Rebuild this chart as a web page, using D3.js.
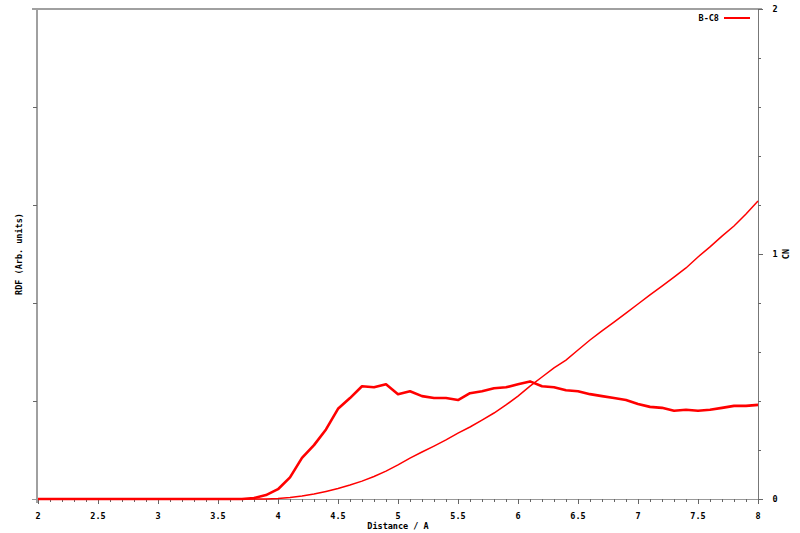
<!DOCTYPE html>
<html>
<head>
<meta charset="utf-8">
<script src="https://cdn.jsdelivr.net/npm/d3@7"></script>
<style>
  body { margin: 0; background: #fff; }
  text { font-family: "DejaVu Sans Mono", monospace; font-weight: bold; font-size: 8.5px; fill: #000; }
</style>
</head>
<body>
<svg id="chart" width="800" height="533"></svg>
<script>
// distance (A), every 0.1
const distance = [2.0,2.1,2.2,2.3,2.4,2.5,2.6,2.7,2.8,2.9,
  3.0,3.1,3.2,3.3,3.4,3.5,3.6,3.7,3.8,3.9,
  4.0,4.1,4.2,4.3,4.4,4.5,4.6,4.7,4.8,4.9,
  5.0,5.1,5.2,5.3,5.4,5.5,5.6,5.7,5.8,5.9,
  6.0,6.1,6.2,6.3,6.4,6.5,6.6,6.7,6.8,6.9,
  7.0,7.1,7.2,7.3,7.4,7.5,7.6,7.7,7.8,7.9,8.0];

// RDF (arb. units)
const rdf = [0,0,0,0,0,0,0,0,0,0,
  0,0,0,0,0,0,0,0,0.01,0.04,
  0.10,0.22,0.42,0.55,0.71,0.92,1.03,1.15,1.14,1.17,
  1.07,1.10,1.05,1.03,1.03,1.01,1.08,1.10,1.13,1.14,
  1.17,1.20,1.15,1.14,1.11,1.10,1.07,1.05,1.03,1.01,
  0.97,0.94,0.93,0.90,0.91,0.90,0.91,0.93,0.95,0.95,0.96];

// coordination number
const cn = [0,0,0,0,0,0,0,0,0,0,
  0,0,0,0,0,0,0,0,0,0,
  0.002,0.006,0.012,0.020,0.031,0.043,0.057,0.073,0.092,0.114,
  0.139,0.167,0.192,0.216,0.241,0.269,0.294,0.322,0.351,0.384,
  0.420,0.461,0.498,0.535,0.567,0.608,0.649,0.686,0.722,0.759,
  0.796,0.833,0.869,0.906,0.943,0.988,1.029,1.073,1.114,1.163,1.216];

const xTicks = [2,2.5,3,3.5,4,4.5,5,5.5,6,6.5,7,7.5,8];
const rdfTicks = [1,2,3,4];
const cnTicks = [0,1,2];
const seriesName = "B-C8";

const svg = d3.select("#chart");
const pL = 38, pR = 758, pT = 9, pB = 499;

const x = d3.scaleLinear().domain([2, 8]).range([pL, pR]);
const yL = d3.scaleLinear().domain([0, 5]).range([pB, pT]);
const yR = d3.scaleLinear().domain([0, 2]).range([pB, pT]);

// frame
svg.append("line").attr("x1", pL - 6).attr("x2", pR + 4).attr("y1", pT).attr("y2", pT)
  .attr("stroke", "#a0a0a0").attr("stroke-width", 2);
svg.append("line").attr("x1", pL - 1).attr("x2", pL - 1).attr("y1", pT).attr("y2", pB + 4)
  .attr("stroke", "#a0a0a0").attr("stroke-width", 2);
svg.append("line").attr("x1", pR + 0.5).attr("x2", pR + 0.5).attr("y1", pT).attr("y2", pB + 4)
  .attr("stroke", "#777").attr("stroke-width", 1);
svg.append("line").attr("x1", pL - 6).attr("x2", pR + 2).attr("y1", pB + 0.5).attr("y2", pB + 0.5)
  .attr("stroke", "#999").attr("stroke-width", 1);

// x ticks: minor every 0.1, major every 0.5
const minor = d3.range(20, 81).map(d => d / 10);
svg.append("g").selectAll("line").data(minor).join("line")
  .attr("x1", d => Math.round(x(d)) + 0.5).attr("x2", d => Math.round(x(d)) + 0.5)
  .attr("y1", pB).attr("y2", d => xTicks.includes(d) ? pB + 5 : pB + 3)
  .attr("stroke", "#666");
svg.append("g").selectAll("text").data(xTicks).join("text")
  .attr("x", d => x(d)).attr("y", 519).attr("text-anchor", "middle")
  .text(d => d);

// left ticks (no labels)
svg.append("g").selectAll("line").data(rdfTicks).join("line")
  .attr("x1", pL - 5).attr("x2", pL - 1)
  .attr("y1", d => Math.round(yL(d)) + 0.5).attr("y2", d => Math.round(yL(d)) + 0.5)
  .attr("stroke", "#666");

// right ticks
const cnMinor = d3.range(0, 11).map(d => d / 5);
svg.append("g").selectAll("line").data(cnMinor).join("line")
  .attr("x1", pR).attr("x2", d => cnTicks.includes(d) ? pR + 5 : pR + 3)
  .attr("y1", d => Math.round(yR(d)) + 0.5).attr("y2", d => Math.round(yR(d)) + 0.5)
  .attr("stroke", "#666");
svg.append("g").selectAll("text").data(cnTicks).join("text")
  .attr("x", 775).attr("y", d => yR(d) + 3).attr("text-anchor", "middle")
  .text(d => d);

// axis titles
svg.append("text").attr("x", (pL + pR) / 2).attr("y", 529).attr("text-anchor", "middle")
  .text("Distance / A");
svg.append("text").attr("transform", `translate(22,${(pT + pB) / 2}) rotate(-90)`)
  .attr("text-anchor", "middle").text("RDF (Arb. units)");
svg.append("text").attr("transform", `translate(789,${(pT + pB) / 2}) rotate(-90)`)
  .attr("text-anchor", "middle").text("CN");

// curves
const pts = distance.map((d, i) => ({ d: d, rdf: rdf[i], cn: cn[i] }));
svg.append("path").datum(pts)
  .attr("d", d3.line().x(p => x(p.d)).y(p => yR(p.cn)))
  .attr("fill", "none").attr("stroke", "#ff0000").attr("stroke-width", 1.5);
svg.append("path").datum(pts)
  .attr("d", d3.line().x(p => x(p.d)).y(p => yL(p.rdf)))
  .attr("fill", "none").attr("stroke", "#ff0000").attr("stroke-width", 2.6)
  .attr("stroke-linejoin", "round");

// legend
svg.append("text").attr("x", 719).attr("y", 21).attr("text-anchor", "end").text(seriesName);
svg.append("line").attr("x1", 724).attr("x2", 750).attr("y1", 18).attr("y2", 18)
  .attr("stroke", "#ff0000").attr("stroke-width", 2);
</script>
</body>
</html>
